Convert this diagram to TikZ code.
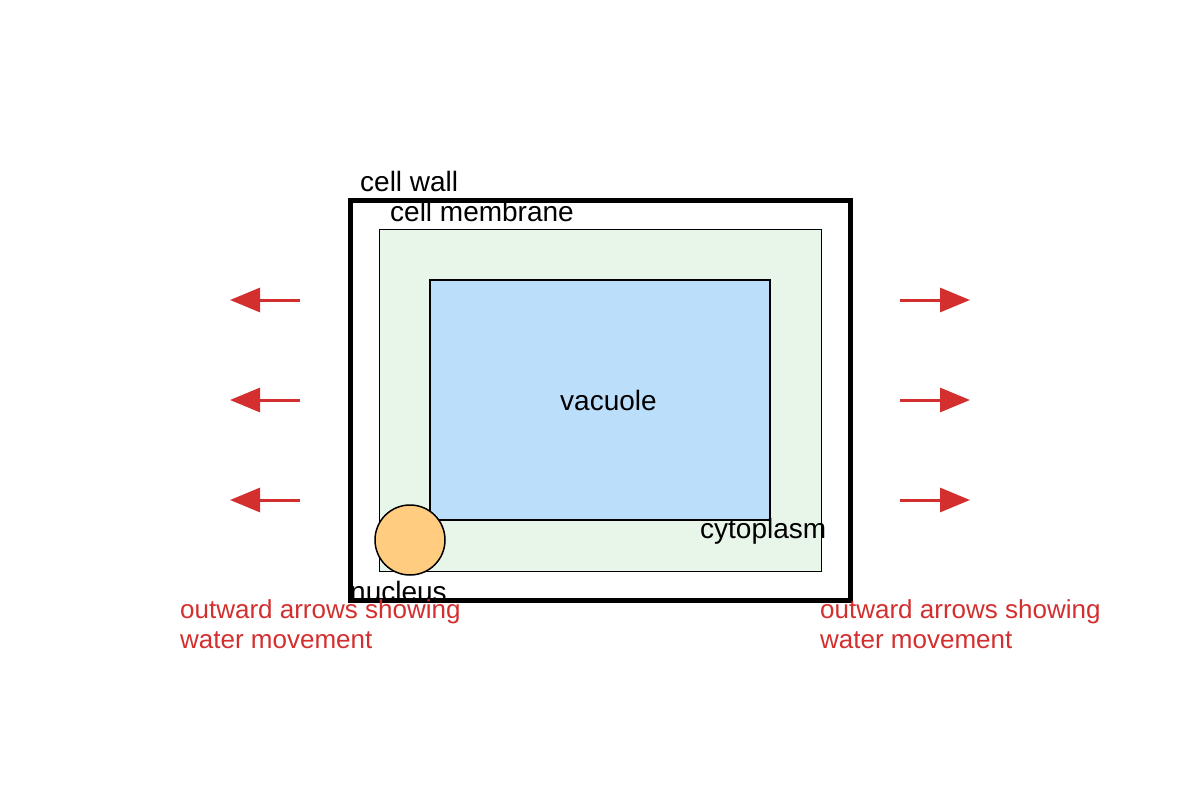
\documentclass[tikz,border=0pt]{standalone}
\usepackage{fontspec}
\setmainfont{Liberation Sans}
\usetikzlibrary{arrows.meta}
\definecolor{wallred}{HTML}{D32F2F}
\definecolor{cytogreen}{HTML}{E8F5E9}
\definecolor{vacblue}{HTML}{BBDEFB}
\definecolor{nucorange}{HTML}{FFCC80}
\begin{document}
\begin{tikzpicture}[x=1pt,y=-1pt]
\tikzstyle{label} = [anchor=west,inner sep=0pt,font=\fontsize{28}{30}\selectfont];
\tikzstyle{note} = [label,text=wallred,align=left,font=\fontsize{26}{30}\selectfont];
\tikzstyle{flow} = [wallred,line width=3pt,-{Triangle[length=30pt,width=24pt]}];
\useasboundingbox (0,0) rectangle (1200,800);

\node [draw,line width=5pt,minimum width=500pt,minimum height=400pt,inner sep=0pt] (wall) at (600,400) {};
\node [draw,fill=cytogreen,minimum width=442pt,minimum height=342pt,inner sep=0pt] (membrane) at (600,400) {};
\node [draw,line width=1.5pt,fill=vacblue,minimum width=340pt,minimum height=240pt,inner sep=0pt] (vacuole) at (600,400) {};
\node [draw,line width=1.5pt,circle,fill=nucorange,minimum size=70pt,inner sep=0pt] (nucleus) at (410,540) {};

\node [label] (t1) at (360,181) {cell wall};
\node [label] (t2) at (390,211) {cell membrane};
\node [label] (t3) at (560,400) {vacuole};
\node [label] (t4) at (700,531) {cytoplasm};
\node [label] (t5) at (350,591) {nucleus};

\foreach \i/\y in {1/300,2/400,3/500} {
  \coordinate (ls\i) at (300,\y);
  \coordinate (le\i) at (230,\y);
  \coordinate (rs\i) at (900,\y);
  \coordinate (re\i) at (970,\y);
  \draw [flow] (ls\i) -- (le\i);
  \draw [flow] (rs\i) -- (re\i);
}

\node [note,anchor=north west] (n1) at (180,599) {outward arrows showing\\water movement};
\node [note,anchor=north west] (n2) at (820,599) {outward arrows showing\\water movement};
\end{tikzpicture}
\end{document}
